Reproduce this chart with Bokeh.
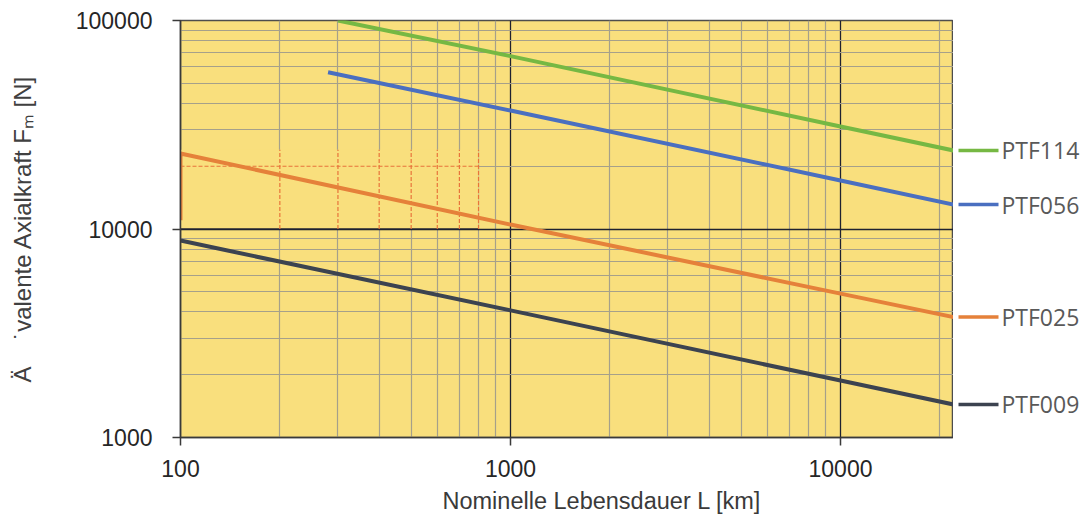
from bokeh.plotting import figure
from bokeh.layouts import row
from bokeh.models import Range1d, FixedTicker, Title
from bokeh.embed import file_html
from bokeh.resources import INLINE
from bokeh.core.properties import value

# ---------------- data ----------------
series_names = ["PTF114", "PTF056", "PTF025", "PTF009"]
ptf114_L = [300, 1000, 10000, 22000]
ptf114_F = [100000, 67500, 31000, 23800]
ptf056_L = [280, 1000, 10000, 22000]
ptf056_F = [56500, 37000, 17100, 13100]
ptf025_L = [100, 100, 1000, 10000, 22000]
ptf025_F = [11000, 23000, 10500, 4900, 3780]
ptf009_L = [100, 1000, 10000, 22000]
ptf009_F = [8800, 4070, 1875, 1440]

x_major = [100, 1000, 10000]
x_tick_labels = ["100", "1000", "10000"]
x_minor = [200, 300, 400, 500, 600, 700, 800, 900,
           2000, 3000, 4000, 5000, 6000, 7000, 8000, 9000, 20000]
y_major = [1000, 10000, 100000]
y_tick_labels = ["1000", "10000", "100000"]
y_minor = [2000, 3000, 4000, 5000, 6000, 7000, 8000, 9000,
           20000, 30000, 40000, 50000, 60000, 70000, 80000, 90000]

# highlighted reading area (orange dashed grid)
hl_L = [100, 800]
hl_F = [10000, 20000, 24000]
hl_vlines = [200, 300, 400, 500, 600, 700, 800]

x_title = "Nominelle Lebensdauer L [km]"
y_title = "Ä\u00a0\u00a0\u00a0\u00a0˙valente Axialkraft F\u2098 [N]"

colors = ["#76B843", "#4A6FC0", "#E5813A", "#3C4350"]
BG = "#F9DF7D"

# ---------------- main plot ----------------
p = figure(width=953, height=520, x_axis_type="log", y_axis_type="log",
           x_range=Range1d(100, 22000), y_range=Range1d(1000, 100000),
           output_backend="svg", toolbar_location=None,
           min_border_left=180, min_border_right=0,
           min_border_top=20, min_border_bottom=83)
p.background_fill_color = BG
p.border_fill_color = "white"
p.outline_line_color = "#4d4d4d"
p.outline_line_width = 1.5

p.xaxis.ticker = FixedTicker(ticks=x_major, minor_ticks=x_minor)
p.yaxis.ticker = FixedTicker(ticks=y_major, minor_ticks=y_minor)
p.xaxis.major_label_overrides = dict(zip(x_major, x_tick_labels))
p.yaxis.major_label_overrides = dict(zip(y_major, y_tick_labels))

for ax in (p.xaxis[0], p.yaxis[0]):
    ax.axis_line_color = "#3a3a3a"
    ax.axis_line_width = 1.5
    ax.major_tick_line_color = "#3a3a3a"
    ax.major_tick_line_width = 1.5
    ax.major_tick_in = 0
    ax.major_tick_out = 8
    ax.minor_tick_line_color = None
    ax.major_label_text_font = "Liberation Sans"
    ax.major_label_text_font_size = "23px"
    ax.major_label_text_color = "#262626"
p.xaxis.major_label_standoff = 14
p.yaxis.major_label_standoff = 20

p.yaxis.axis_label = y_title
p.yaxis.axis_label_text_font = "Liberation Sans"
p.yaxis.axis_label_text_font_size = "24px"
p.yaxis.axis_label_text_font_style = "normal"
p.yaxis.axis_label_text_color = "#404040"
p.yaxis.axis_label_standoff = 37

for g in (p.xgrid[0], p.ygrid[0]):
    g.grid_line_color = "#1f2230"
    g.grid_line_width = 1.3
    g.minor_grid_line_color = "#a6a08a"
    g.minor_grid_line_width = 1.2

# highlighted area: cover grey grid, then orange dashed grid
p.quad(left=hl_L[0], right=hl_L[1], bottom=hl_F[0], top=hl_F[2],
       fill_color=BG, line_color=None)
p.segment(x0=hl_L[0], x1=hl_L[1], y0=hl_F[0], y1=hl_F[0],
          line_color="#1f2230", line_width=1.3)
p.segment(x0=hl_L[0], x1=hl_L[1], y0=hl_F[1], y1=hl_F[1],
          line_color="#E8743B", line_width=1.2, line_dash="4 2")
p.segment(x0=hl_vlines, x1=hl_vlines,
          y0=[hl_F[0]] * len(hl_vlines), y1=[hl_F[2]] * len(hl_vlines),
          line_color="#E8743B", line_width=1.2, line_dash="4 2")

all_L = [ptf114_L, ptf056_L, ptf025_L, ptf009_L]
all_F = [ptf114_F, ptf056_F, ptf025_F, ptf009_F]
for L, F, c in zip(all_L, all_F, colors):
    p.line(L, F, line_color=c, line_width=4)

p.add_layout(Title(text=x_title, align="left", offset=262, standoff=13,
                   text_font="Liberation Sans", text_font_size="23.5px",
                   text_font_style="normal", text_color="#3a3a3a"), "below")

# ---------------- end-of-line labels ----------------
q = figure(width=132, height=520, y_axis_type="log",
           x_range=Range1d(0, 132), y_range=p.y_range,
           output_backend="svg", toolbar_location=None,
           x_axis_location=None, y_axis_location=None,
           min_border_left=0, min_border_right=0,
           min_border_top=20, min_border_bottom=83)
q.outline_line_color = None
q.background_fill_color = "white"
q.border_fill_color = "white"
q.xgrid.visible = False
q.ygrid.visible = False
end_F = [F[-1] for F in all_F]
q.segment(x0=[5] * 4, x1=[45] * 4, y0=end_F, y1=end_F,
          line_color=colors, line_width=3.5)
q.text(x=[48] * 4, y=end_F, text=series_names,
       text_font=value("Open Sans"), text_font_size="23px",
       text_color="#595959", text_baseline="middle", text_align="left")

layout = row(p, q)
open("out.html", "w").write(file_html(layout, INLINE))
